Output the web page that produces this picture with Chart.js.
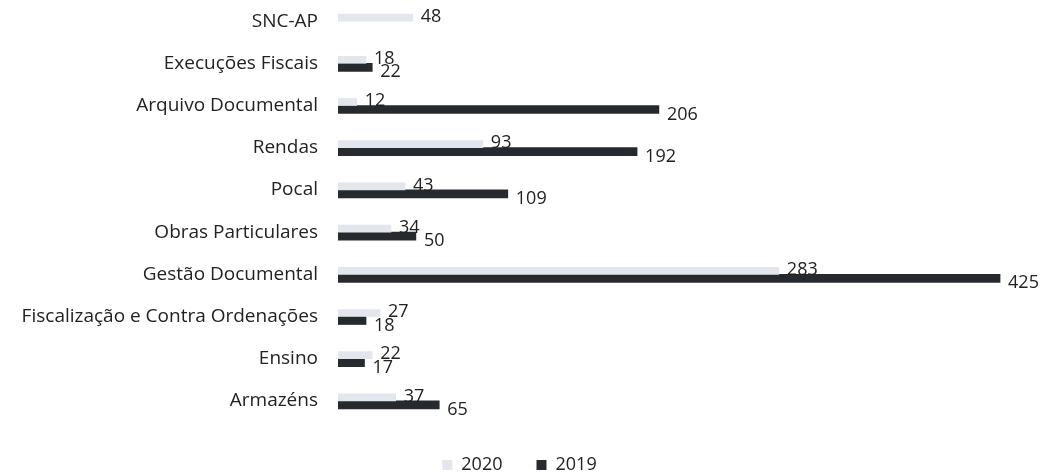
<!DOCTYPE html>
<html>
<head>
<meta charset="utf-8">
<script src="https://cdn.jsdelivr.net/npm/chart.js@4/dist/chart.umd.min.js"></script>
<style>
  html, body { margin: 0; padding: 0; background: #fff; }
  #wrap { width: 1054px; height: 475px; }
</style>
</head>
<body>
<div id="wrap"><canvas id="servicosChart"></canvas></div>
<script>
// categorias e valores
const categories = [
    'SNC-AP',
    'Execuções Fiscais',
    'Arquivo Documental',
    'Rendas',
    'Pocal',
    'Obras Particulares',
    'Gestão Documental',
    'Fiscalização e Contra Ordenações',
    'Ensino',
    'Armazéns'
];
const values2020 = [48, 18, 12, 93, 43, 34, 283, 27, 22, 37];
const values2019 = [null, 22, 206, 192, 109, 50, 425, 18, 17, 65];
const seriesLabels = ['2020', '2019'];

const fontFamily = '"Open Sans", sans-serif';
const labelShiftY = [-1, 5]; // 2020 um pouco acima, 2019 abaixo

// rótulos de valor no fim das barras
const barLabels = {
    id: 'barLabels',
    afterDatasetsDraw(chart) {
        const ctx = chart.ctx;
        ctx.save();
        ctx.font = '18px ' + fontFamily;
        ctx.fillStyle = '#222';
        ctx.textBaseline = 'middle';
        chart.data.datasets.forEach((ds, i) => {
            const meta = chart.getDatasetMeta(i);
            meta.data.forEach((bar, j) => {
                const v = ds.data[j];
                if (v == null) return;
                ctx.fillText(String(v), bar.x + 8, bar.y + labelShiftY[i]);
            });
        });
        ctx.restore();
    }
};

const ctx = document.getElementById('servicosChart').getContext('2d');
new Chart(ctx, {
    type: 'bar',
    data: {
        labels: categories,
        datasets: [
            {
                label: seriesLabels[0],
                data: values2020,
                backgroundColor: '#e3e6ed',
                barThickness: 7,
                categoryPercentage: 0.66
            },
            {
                label: seriesLabels[1],
                data: values2019,
                backgroundColor: '#262a2f',
                barThickness: 8,
                categoryPercentage: 0.66
            }
        ]
    },
    options: {
        indexAxis: 'y',
        responsive: true,
        maintainAspectRatio: false,
        animation: false,
        layout: {
            padding: { left: 0, right: 15, top: 0, bottom: -9 }
        },
        scales: {
            x: {
                display: false,
                min: 0,
                max: 450
            },
            y: {
                grid: { display: false, drawTicks: false },
                border: { display: false },
                ticks: {
                    color: '#222',
                    padding: 20,
                    font: { family: fontFamily, size: 19 }
                },
                afterFit(scale) {
                    scale.width = 338;
                    scale.paddingTop = 0;
                    scale.paddingBottom = 0;
                }
            }
        },
        plugins: {
            legend: {
                position: 'bottom',
                labels: {
                    color: '#222',
                    boxWidth: 10,
                    boxHeight: 10,
                    padding: 34,
                    font: { family: fontFamily, size: 18 }
                }
            },
            tooltip: { enabled: false }
        }
    },
    plugins: [barLabels]
});
</script>
</body>
</html>
